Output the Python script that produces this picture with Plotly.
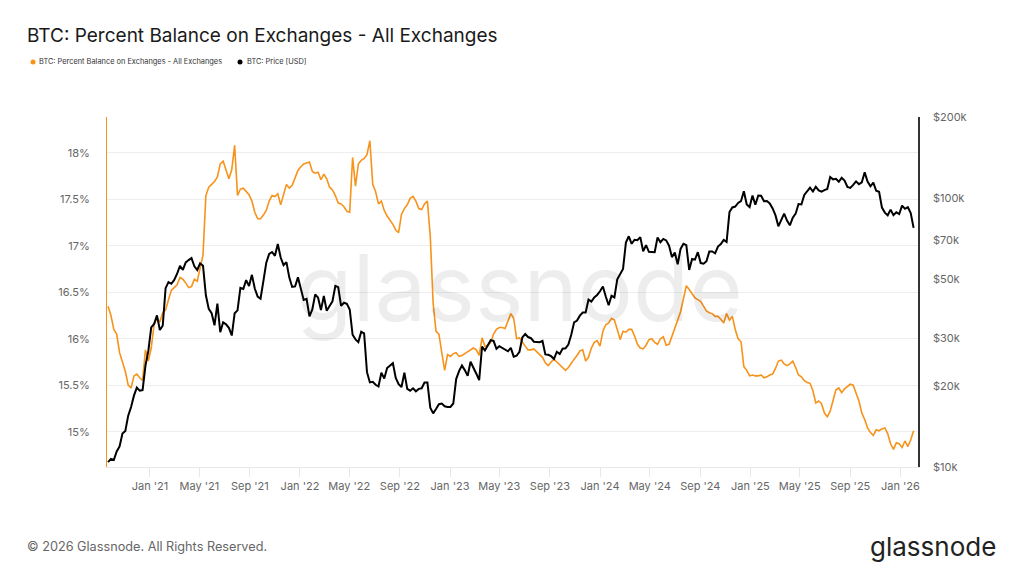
import math
import pandas as pd
import plotly.graph_objects as go

# ---------------- data (weekly samples, Mondays) ----------------
dates = pd.date_range("2020-09-21", periods=281, freq="7D")

# BTC: Percent Balance on Exchanges - All Exchanges (%)
balance_pct = [
    16.35, 16.25, 16.10, 16.05, 15.85, 15.76, 15.65, 15.50, 15.47, 15.60,
    15.62, 15.58, 15.55, 15.88, 15.76, 15.90, 16.15, 16.22, 16.18, 16.28,
    16.31, 16.42, 16.52, 16.55, 16.58, 16.66, 16.64, 16.60, 16.55, 16.56,
    16.64, 16.62, 16.78, 16.90, 17.54, 17.63, 17.66, 17.69, 17.74, 17.88,
    17.91, 17.80, 17.72, 17.82, 18.08, 17.54, 17.61, 17.62, 17.59, 17.55,
    17.48, 17.36, 17.29, 17.29, 17.33, 17.38, 17.48, 17.54, 17.53, 17.56,
    17.44, 17.56, 17.66, 17.62, 17.65, 17.73, 17.81, 17.85, 17.88, 17.89,
    17.90, 17.80, 17.78, 17.79, 17.71, 17.77, 17.72, 17.63, 17.60, 17.54,
    17.46, 17.45, 17.42, 17.37, 17.36, 17.95, 17.64, 17.88, 17.92, 17.94,
    17.98, 18.13, 17.66, 17.58, 17.45, 17.48, 17.38, 17.32, 17.28, 17.23,
    17.17, 17.14, 17.34, 17.40, 17.44, 17.51, 17.53, 17.48, 17.40, 17.39,
    17.45, 17.48, 17.10, 16.38, 16.08, 16.05, 15.85, 15.66, 15.83, 15.81,
    15.84, 15.85, 15.81, 15.82, 15.84, 15.86, 15.88, 15.90, 15.88, 15.82,
    16.01, 15.92, 15.93, 15.96, 16.05, 16.10, 16.12, 16.12, 16.11, 16.20,
    16.27, 16.22, 16.00, 16.01, 15.96, 15.92, 15.88, 15.88, 15.89, 15.86,
    15.83, 15.80, 15.74, 15.71, 15.75, 15.78, 15.75, 15.72, 15.69, 15.66,
    15.69, 15.74, 15.78, 15.82, 15.87, 15.88, 15.76, 15.80, 15.90, 15.96,
    15.98, 15.92, 16.08, 16.15, 16.17, 16.22, 16.20, 16.10, 15.99, 16.08,
    16.07, 16.10, 16.10, 16.03, 15.94, 15.90, 15.89, 15.93, 15.99, 16.00,
    15.96, 15.94, 16.00, 16.02, 15.93, 15.94, 16.02, 16.12, 16.20, 16.29,
    16.45, 16.57, 16.53, 16.48, 16.44, 16.42, 16.40, 16.35, 16.30, 16.28,
    16.27, 16.24, 16.24, 16.21, 16.17, 16.27, 16.20, 16.24, 16.10, 16.00,
    15.97, 15.70, 15.66, 15.60, 15.61, 15.60, 15.60, 15.61, 15.58, 15.59,
    15.61, 15.62, 15.68, 15.76, 15.77, 15.73, 15.71, 15.73, 15.76, 15.69,
    15.61, 15.59, 15.55, 15.53, 15.52, 15.44, 15.31, 15.33, 15.30, 15.20,
    15.16, 15.22, 15.35, 15.45, 15.47, 15.42, 15.46, 15.49, 15.51, 15.50,
    15.42, 15.33, 15.20, 15.13, 15.04, 14.99, 14.96, 15.02, 15.01, 15.03,
    15.04, 14.98, 14.87, 14.81, 14.88, 14.87, 14.83, 14.90, 14.84, 14.91, 15.01,
]

# BTC: Price [USD], in thousands of USD
price_k = [
    # 2020 (from Sep 21)
    10.4, 10.7, 10.6, 11.4, 11.9, 13.3, 13.6, 15.5, 16.7, 18.4, 19.7, 19.2, 19.3, 23.8, 27.0,
    # 2021
    33.0, 34.0, 36.6, 32.3, 33.5, 46.2, 48.7, 48.0, 49.6, 52.3, 55.9, 54.1, 57.6, 58.8, 59.8,
    55.7, 54.0, 57.2, 56.0, 43.5, 38.7, 37.3, 33.6, 40.5, 31.7, 34.5, 33.9, 32.9, 30.8, 37.3,
    38.2, 46.3, 45.9, 49.5, 47.1, 51.8, 46.1, 43.0, 42.2, 49.2, 57.5, 62.0, 63.0, 61.0, 67.5,
    60.1, 56.3, 57.8, 50.6, 46.7, 46.9, 50.7,
    # 2022
    46.4, 41.8, 42.2, 36.3, 38.5, 43.8, 42.6, 38.3, 43.2, 38.1, 39.7, 41.3, 47.1, 46.6, 39.7,
    40.8, 40.4, 38.5, 31.0, 29.8, 29.1, 31.8, 31.4, 22.5, 20.6, 20.7, 20.2, 19.9, 22.4, 21.3,
    23.3, 23.8, 24.3, 21.4, 20.3, 19.8, 22.4, 19.5, 19.2, 19.6, 19.1, 19.5, 19.6, 20.6, 20.6,
    16.6, 15.8, 16.4, 17.1, 17.2, 16.8, 16.7,
    # 2023
    16.7, 17.2, 21.2, 22.7, 23.8, 22.9, 21.8, 24.6, 23.5, 22.2, 21.0, 28.0, 27.1, 28.2, 29.6,
    29.4, 27.5, 28.1, 27.7, 27.2, 26.9, 27.7, 25.7, 25.9, 26.8, 30.3, 31.2, 30.4, 30.1, 29.2,
    29.2, 29.1, 29.4, 26.2, 26.1, 25.8, 25.2, 26.8, 26.3, 27.5, 27.6, 28.5, 31.0, 34.5, 35.0,
    36.5, 37.5, 37.5, 41.9, 41.2, 42.7, 43.6,
    # 2024
    45.0, 46.9, 43.0, 39.9, 43.3, 42.7, 49.9, 52.1, 54.5, 68.3, 72.1, 67.6, 70.0, 69.7, 71.6,
    63.4, 66.8, 63.1, 63.1, 62.9, 71.4, 68.5, 70.5, 69.6, 66.5, 60.3, 62.7, 56.7, 64.7, 67.6,
    66.8, 54.0, 59.4, 59.0, 62.9, 57.3, 57.0, 58.2, 63.3, 63.3, 62.3, 66.0, 67.4, 69.9, 68.7,
    88.7, 92.3, 93.0, 95.9, 97.4, 106.0, 94.7, 92.6,
    # 2025
    102.2, 94.5, 102.3, 102.1, 97.4, 97.5, 95.5, 91.5, 86.2, 78.5, 82.7, 87.5, 82.5, 79.2, 84.5,
    87.5, 95.0, 94.7, 102.8, 105.6, 109.4, 105.8, 110.3, 106.8, 105.6, 107.1, 108.2, 119.8, 117.4, 118.0,
    115.0, 119.0, 116.2, 110.1, 109.2, 112.0, 115.4, 112.7, 114.4, 124.7, 115.3, 110.6, 114.1, 106.5, 105.5,
    92.2, 88.3, 86.3, 90.6, 86.4, 88.5, 87.2,
    # 2026
    93.8, 91.2, 92.5, 88.0, 77.5,
]

left_tick_vals = [15, 15.5, 16, 16.5, 17, 17.5, 18]
left_tick_text = ["15%", "15.5%", "16%", "16.5%", "17%", "17.5%", "18%"]
right_tick_vals = [10, 20, 30, 50, 70, 100, 200]
right_tick_text = ["$10k", "$20k", "$30k", "$50k", "$70k", "$100k", "$200k"]

series_names = ["BTC: Percent Balance on Exchanges - All Exchanges", "BTC: Price [USD]"]
series_colors = ["#F7931A", "#000000"]

# ---------------- layout geometry ----------------
W, H = 1024, 576
L, R, T, B = 107, 106, 117, 109
PW, PH = W - L - R, H - T - B


def px(xp):
    return (xp - L) / PW


def py(yp):
    return (H - B - yp) / PH


FONT = "Inter, Roboto, 'Open Sans', sans-serif"

fig = go.Figure()
fig.add_trace(go.Scatter(
    x=dates, y=balance_pct, mode="lines", name=series_names[0],
    line=dict(color=series_colors[0], width=1.6), yaxis="y", showlegend=False,
))
fig.add_trace(go.Scatter(
    x=dates, y=price_k, mode="lines", name=series_names[1],
    line=dict(color=series_colors[1], width=2), yaxis="y2", showlegend=False,
))

annotations = [
    # watermark
    dict(text="glassnode", x=px(519), y=py(287), xref="paper", yref="paper",
         showarrow=False, xanchor="center", yanchor="middle",
         font=dict(family=FONT, size=92, color="rgba(0,0,0,0.07)")),
    # legend texts
    dict(text=series_names[0], x=px(37), y=py(62), xref="paper", yref="paper",
         showarrow=False, xanchor="left", yanchor="middle",
         font=dict(family=FONT, size=7.4, color="#333")),
    dict(text=series_names[1], x=px(245), y=py(62), xref="paper", yref="paper",
         showarrow=False, xanchor="left", yanchor="middle",
         font=dict(family=FONT, size=7.4, color="#333")),
    # footer
    dict(text="© 2026 Glassnode. All Rights Reserved.", x=px(25), y=py(546),
         xref="paper", yref="paper", showarrow=False, xanchor="left", yanchor="middle",
         font=dict(family=FONT, size=12.7, color="#666")),
    dict(text="glassnode", x=px(998), y=py(546), xref="paper", yref="paper",
         showarrow=False, xanchor="right", yanchor="middle",
         font=dict(family=FONT, size=26, color="#222")),
]

shapes = [
    dict(type="circle", xref="paper", yref="paper",
         x0=px(30.5), x1=px(35.5), y0=py(64.5), y1=py(59.5),
         fillcolor=series_colors[0], line=dict(width=0)),
    dict(type="circle", xref="paper", yref="paper",
         x0=px(237.5), x1=px(242.5), y0=py(64.5), y1=py(59.5),
         fillcolor=series_colors[1], line=dict(width=0)),
]

fig.update_layout(
    width=W, height=H,
    margin=dict(l=L, r=R, t=T, b=B, pad=0),
    paper_bgcolor="white", plot_bgcolor="white",
    font=dict(family=FONT, color="#666", size=11),
    title=dict(text="BTC: Percent Balance on Exchanges - All Exchanges",
               x=27 / W, xref="container", xanchor="left",
               y=1 - 35 / H, yref="container", yanchor="middle",
               font=dict(family=FONT, size=19, color="#1a1a1a")),
    showlegend=False,
    xaxis=dict(
        type="date", range=["2020-09-18 10:00", "2026-02-12 17:00"],
        dtick="M4", tick0="2021-01-01", tickformat="%b '%y",
        showgrid=False, zeroline=False,
        showline=True, linecolor="#e8e8e8", linewidth=1,
        ticks="outside", ticklen=9, tickcolor="#e8e8e8", tickwidth=1,
        tickfont=dict(family=FONT, size=11, color="#666"),
    ),
    yaxis=dict(
        range=[14.62, 18.385], tickvals=left_tick_vals, ticktext=left_tick_text,
        showgrid=True, gridcolor="#eeeeee", gridwidth=1, zeroline=False,
        showline=True, linecolor=series_colors[0], linewidth=1,
        ticks="", ticklabelstandoff=14,
        tickfont=dict(family=FONT, size=11, color="#666"),
    ),
    yaxis2=dict(
        type="log", overlaying="y", side="right",
        range=[math.log10(10) - 0.0008, math.log10(200) + 0.0008],
        tickvals=right_tick_vals, ticktext=right_tick_text,
        showgrid=False, zeroline=False,
        showline=True, linecolor="#333", linewidth=1.5,
        ticks="", ticklabelstandoff=11,
        tickfont=dict(family=FONT, size=11, color="#666"),
    ),
    annotations=annotations,
    shapes=shapes,
)

fig.write_html("out.html")
